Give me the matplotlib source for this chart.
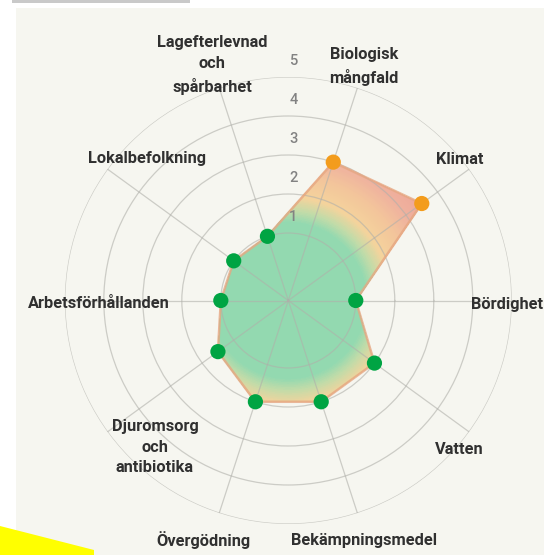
import numpy as np
import matplotlib.pyplot as plt
from matplotlib.colors import LinearSegmentedColormap
from matplotlib.patches import Rectangle, Polygon

# Data
categories = ['Bördighet', 'Klimat', 'Biologisk\nmångfald', 'Lagefterlevnad\noch\nspårbarhet',
              'Lokalbefolkning', 'Arbetsförhållanden', 'Djuromsorg\noch\nantibiotika',
              'Övergödning', 'Bekämpningsmedel', 'Vatten']
scores = [1, 3.5, 3, 1, 1, 1, 1.5, 2, 2, 2]
ring_ticks = [1, 2, 3, 4, 5]

# label centres in pixels (x, y from top)
label_px = [(507, 304), (460, 159), (364, 67), (212, 65), (147, 159), (99, 304),
            (155, 447), (203, 540), (364, 540), (459, 450)]

W, H = 544, 555
r_min = -0.73

green = '#00a443'
orange = '#f39c1c'
text_col = '#303030'
grid_col = '#b0b0aa'

fig = plt.figure(figsize=(W / 100, H / 100), dpi=100)
fig.patch.set_facecolor('white')

# screenshot panel + decorations
fig.patches.append(Rectangle((16 / W, 0), 1 - 16 / W, 1 - 8 / H, transform=fig.transFigure,
                             facecolor='#f6f6f0', edgecolor='none', zorder=-2))
fig.patches.append(Rectangle((12 / W, 1 - 2.5 / H), 178 / W, 2.5 / H, transform=fig.transFigure,
                             facecolor='#c9c9c9', edgecolor='none', zorder=-2))
fig.patches.append(Polygon([(0, 1 - 526 / H), (94 / W, 1 - 550 / H), (94 / W, 0), (0, 0)],
                           closed=True, transform=fig.transFigure,
                           facecolor='#ffff00', edgecolor='none', zorder=-2))

# polar axes: centre (288.3, 300.5) px, outer radius 223.5 px
cx, cy, R = 288.3, 300.5, 223.5
ax = fig.add_axes([(cx - R) / W, (H - cy - R) / H, 2 * R / W, 2 * R / H], projection='polar')
ax.set_zorder(2)
ax.set_facecolor('none')
ax.set_ylim(r_min, 5)
ax.spines['polar'].set_visible(False)

n = len(categories)
angles = np.arange(n) * 2 * np.pi / n
theta = np.append(angles, angles[0])
vals = np.append(scores, scores[0])

# polygon outline / clip
poly = ax.fill(theta, vals, facecolor='none', edgecolor='#e6a782', linewidth=1.8, alpha=0.8, zorder=3)[0]


def frac(v):
    return (v - r_min) / (5 - r_min)


# radial gradient green -> yellow -> pink, clipped to polygon
cmap = LinearSegmentedColormap.from_list('score', [
    (0.0, '#93d9b0'), (frac(1.3), '#93d9b0'),
    (frac(1.6), '#c3dba8'),
    (frac(1.95), '#f4d39c'),
    (frac(2.5), '#f3c59b'),
    (frac(3.0), '#efb29e'),
    (frac(3.5), '#eea899'),
    (1.0, '#eea899')])
t_edges = np.linspace(0, 2 * np.pi, 721)
r_edges = np.linspace(r_min, 5, 400)
tt, rr = np.meshgrid(t_edges, r_edges)
r_mid = 0.5 * (r_edges[:-1] + r_edges[1:])
cc = np.repeat(r_mid[:, None], len(t_edges) - 1, axis=1)
mesh = ax.pcolormesh(tt, rr, cc, cmap=cmap, vmin=r_min, vmax=5, shading='flat',
                     edgecolors='face', linewidth=0.3, zorder=1)
mesh.set_clip_path(poly)

# grid
ax.set_xticks(angles)
ax.set_xticklabels([])
ax.set_yticks(ring_ticks)
ax.set_yticklabels([])
ax.grid(True, color=grid_col, linewidth=0.9, alpha=0.6)
ax.set_axisbelow(False)
ax.tick_params(length=0)
for gl in ax.get_xgridlines() + ax.get_ygridlines():
    gl.set_zorder(2)

# points
pt_colors = [orange if s > 2 else green for s in scores]
ax.scatter(angles, scores, s=120, c=pt_colors, edgecolors='none', zorder=4, clip_on=False)

# ring numbers
for t in ring_ticks:
    ax.annotate(str(t), xy=(np.pi / 2, t), xytext=(3.6, 11.2), textcoords='offset points',
                ha='center', va='center', fontsize=10.5, color='#828282', family='Roboto',
                fontweight='medium', zorder=5)

# category labels
for lab, (px, py) in zip(categories, label_px):
    fig.text(px / W, 1 - py / H, lab, ha='center', va='center', fontsize=11.8,
             family='Roboto', fontweight='bold', color=text_col, linespacing=1.5)

fig.savefig('out.png', dpi=100)
